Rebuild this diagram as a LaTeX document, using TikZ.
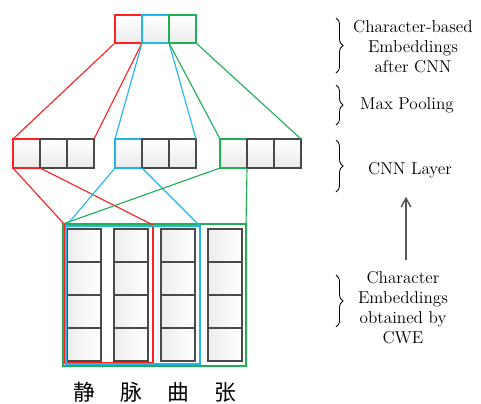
\documentclass[tikz,border=0pt]{standalone}
\usepackage{fontspec}
\newfontfamily\cjk{Noto Sans CJK SC}
\usetikzlibrary{arrows.meta, positioning, fit, shadows, decorations.pathreplacing}
\definecolor{KernelRed}{HTML}{FF2020}
\definecolor{KernelBlue}{HTML}{22B6EE}
\definecolor{KernelGreen}{HTML}{1FAF55}
\definecolor{CellGray}{HTML}{4A4A4A}
\definecolor{ArrowGray}{HTML}{555555}
\tikzset{
  featbox/.style={draw=CellGray, line width=0.9pt, top color=white, bottom color=gray!16, minimum width=0.675cm, minimum height=0.725cm, inner sep=0pt, outer sep=0pt, drop shadow={shadow xshift=1pt, shadow yshift=-1pt, opacity=0.25}},
  poolbox/.style={featbox, minimum height=0.7cm},
  embcell/.style={draw=CellGray, line width=0.9pt, left color=gray!14, right color=white, minimum width=0.85cm, minimum height=0.825cm, inner sep=0pt, outer sep=0pt, drop shadow={shadow xshift=1pt, shadow yshift=-1pt, opacity=0.25}},
  window/.style={draw, line width=0.9pt, inner sep=0pt, outer sep=0pt},
  redline/.style={draw=KernelRed, line width=0.8pt},
  blueline/.style={draw=KernelBlue, line width=0.8pt},
  greenline/.style={draw=KernelGreen, line width=0.8pt},
  layerbrace/.style={decorate, decoration={brace, amplitude=5pt}, line width=0.6pt},
  layertext/.style={align=center, font=\fontsize{12.2}{14.3}\selectfont},
  charlabel/.style={font=\cjk\fontsize{15.5}{17}\selectfont, inner sep=0pt},
  uparrow/.style={-{Straight Barb[length=2.2mm, width=2.4mm]}, line width=1pt, draw=ArrowGray}
}

\begin{document}
\begin{tikzpicture}[x=0.025cm, y=-0.025cm]
\useasboundingbox (0,0) rectangle (481,403);

% character embeddings (columns)
\foreach \c in {1,...,4}
  \foreach \r in {1,...,4}
    \node[embcell] (e\c\r) at ({84+(\c-1)*47}, {245.5+(\r-1)*33}) {};

% convolution windows
\node[window, draw=KernelRed, minimum width=2.2cm, minimum height=3.45cm] (redwin) at (109,294) {};
\node[window, draw=KernelBlue, minimum width=3.35cm, minimum height=3.45cm] (bluewin) at (133,295) {};
\node[window, draw=KernelGreen, minimum width=4.575cm, minimum height=3.55cm] (greenwin) at (154.5,295) {};

% CNN layer
\node[featbox, draw=KernelRed] (m1a) at (26.5,153.5) {};
\node[featbox, right=0pt of m1a] (m1b) {};
\node[featbox, right=0pt of m1b] (m1c) {};
\node[featbox, draw=KernelBlue] (m2a) at (128.5,153.5) {};
\node[featbox, right=0pt of m2a] (m2b) {};
\node[featbox, right=0pt of m2b] (m2c) {};
\node[featbox, draw=KernelGreen] (m3a) at (233.5,153.5) {};
\node[featbox, right=0pt of m3a] (m3b) {};
\node[featbox, right=0pt of m3b] (m3c) {};

% max pooling result
\node[poolbox, draw=KernelRed] (pr) at (128.5,29) {};
\node[poolbox, draw=KernelBlue, right=0pt of pr] (pb) {};
\node[poolbox, draw=KernelGreen, right=0pt of pb] (pg) {};

% pooling lines
\draw[redline] (pr.south west) -- (m1a.north west);
\draw[redline] (pr.south east) -- (m1c.north east);
\draw[blueline] (pb.south west) -- (m2a.north west);
\draw[blueline] (pb.south east) -- (m2c.north east);
\draw[greenline] (pg.south west) -- (m3a.north west);
\draw[greenline] (pg.south east) -- (m3c.north east);

% convolution lines
\draw[redline] (m1a.south west) -- (redwin.north west);
\draw[redline] (m1a.south east) -- (redwin.north east);
\draw[blueline] (m2a.south west) -- (bluewin.north west);
\draw[blueline] (m2a.south east) -- (bluewin.north east);
\draw[greenline] (m3a.south west) -- (greenwin.north west);
\draw[greenline] (m3a.south east) -- (greenwin.north east);

% characters
\node[charlabel] (c1) at ([yshift=-0.775cm]e14.south) {静};
\node[charlabel] (c2) at ([yshift=-0.775cm]e24.south) {脉};
\node[charlabel] (c3) at ([yshift=-0.775cm]e34.south) {曲};
\node[charlabel] (c4) at ([yshift=-0.775cm]e44.south) {张};

% layer descriptions
\draw[layerbrace] (336,18) -- (336,73);
\node[layertext] (lab1) at (413,47) {Character-based\\Embeddings\\after CNN};
\draw[layerbrace] (336,85) -- (336,125);
\node[layertext] (lab2) at (407,105) {Max Pooling};
\draw[layerbrace] (336,140) -- (336,192);
\node[layertext] (lab3) at (410,170) {CNN Layer};
\draw[layerbrace] (336,275) -- (336,327);
\node[layertext] (lab4) at (403,307.5) {Character\\Embeddings\\obtained by\\CWE};
\draw[uparrow, shorten <=0.15cm, shorten >=0.35cm] ([xshift=0.075cm]lab4.north) -- ([xshift=0.075cm]lab4.north |- lab3.south);
\end{tikzpicture}
\end{document}
